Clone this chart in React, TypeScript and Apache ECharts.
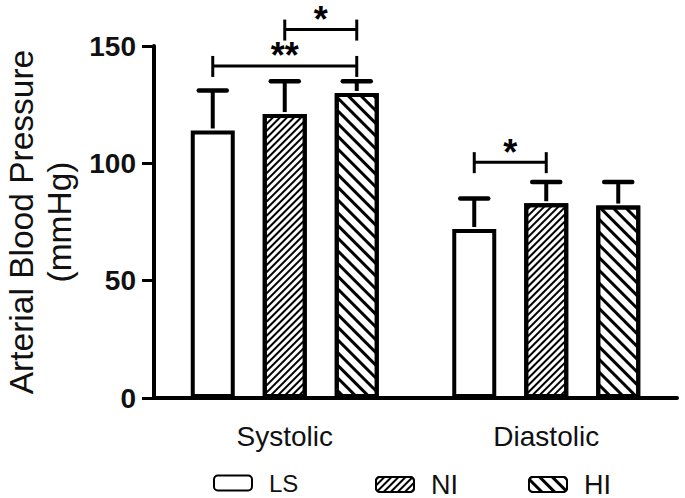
import React, { useEffect, useRef } from "react";
import * as echarts from "echarts";

const categories = ["Systolic", "Diastolic"];
const groups = ["LS", "NI", "HI"];
const meanLS = [114, 72];
const meanNI = [121, 83];
const meanHI = [130, 82];
const sdLS = [17, 13];
const sdNI = [14, 9];
const sdHI = [5, 10];
// significance brackets: [categoryIndex, fromGroup, toGroup, y value]
const brackets = [
  [0, 1, 2, 157],
  [0, 0, 2, 141.5],
  [1, 0, 1, 100.5],
];
const bracketLabels = ["*", "**", "*"];
const yTicks = { min: 0, max: 150, interval: 50 };

const FONT = "'Liberation Sans', Arial, sans-serif";
const BAR_W = 44;
const STEP = 72;

export default function App() {
  const ref = useRef<HTMLDivElement>(null);
  useEffect(() => {
    if (!ref.current) return;
    const chart = echarts.init(ref.current, null, { renderer: "svg" });
    const means = [meanLS, meanNI, meanHI];
    const sds = [sdLS, sdNI, sdHI];
    const errData: number[][] = [];
    means.forEach((m, gi) =>
      m.forEach((v, ci) => errData.push([ci, gi, v, v + sds[gi][ci]]))
    );
    const decals: any[] = [
      undefined,
      {
        symbol: "rect",
        symbolSize: 1,
        color: "#000",
        backgroundColor: "#fff",
        dashArrayX: [1, 0],
        dashArrayY: [1.4, 3],
        rotation: -Math.PI / 4,
      },
      {
        symbol: "rect",
        symbolSize: 1,
        color: "#000",
        backgroundColor: "#fff",
        dashArrayX: [1, 0],
        dashArrayY: [2.4, 6],
        rotation: Math.PI / 4,
      },
    ];
    const barSeries = groups.map((g, gi) => ({
      name: g,
      type: "bar",
      data: means[gi],
      barWidth: BAR_W,
      barGap: ((STEP - BAR_W) / BAR_W) * 100 + "%",
      itemStyle: {
        color: "#fff",
        borderColor: "#000",
        borderWidth: 4,
        decal: decals[gi],
      },
      z: 2,
    }));
    const legendPos = [
      { left: 208, size: 24 },
      { left: 370, size: 27 },
      { left: 523, size: 27 },
    ];
    chart.setOption({
      animation: false,
      backgroundColor: "#fff",
      grid: {
        left: 154,
        right: 8,
        top: 46,
        bottom: 100,
        containLabel: false,
        outerBoundsMode: "none",
      },
      legend: groups.map((g, gi) => ({
        data: [g],
        left: legendPos[gi].left,
        top: 466,
        icon: "roundRect",
        itemWidth: 38,
        itemHeight: 15,
        selectedMode: false,
        textStyle: {
          fontFamily: FONT,
          fontSize: legendPos[gi].size,
          color: "#111",
          padding: [0, 0, 0, 12],
        },
      })),
      xAxis: {
        type: "category",
        data: categories,
        axisLine: { lineStyle: { color: "#000", width: 4 } },
        axisTick: { alignWithLabel: true, length: 10, lineStyle: { color: "#000", width: 3 } },
        axisLabel: { fontFamily: FONT, fontSize: 28, color: "#111", margin: 24 },
      },
      yAxis: {
        type: "value",
        min: yTicks.min,
        max: yTicks.max,
        interval: yTicks.interval,
        name: "Arterial Blood Pressure\n(mmHg)",
        nameLocation: "middle",
        nameGap: 73,
        nameTextStyle: { fontFamily: FONT, fontSize: 33.5, lineHeight: 38, color: "#111" },
        axisLine: { show: true, lineStyle: { color: "#000", width: 4 } },
        axisTick: { show: true, length: 12, lineStyle: { color: "#000", width: 3 } },
        axisLabel: { fontFamily: FONT, fontSize: 28, fontWeight: "bold", color: "#111", margin: 18 },
        splitLine: { show: false },
      },
      series: [
        ...barSeries,
        {
          type: "custom",
          name: "err",
          data: errData,
          z: 3,
          clip: false,
          renderItem: (params: any, api: any) => {
            const cat = api.value(0);
            const gi = api.value(1);
            const base = api.coord([cat, api.value(2)]);
            const top = api.coord([cat, api.value(3)]);
            const x = base[0] + (gi - 1) * STEP;
            return {
              type: "group",
              children: [
                {
                  type: "line",
                  shape: { x1: x, y1: base[1] - 2, x2: x, y2: top[1] },
                  style: { stroke: "#000", lineWidth: 4 },
                },
                {
                  type: "line",
                  shape: { x1: x - 14, y1: top[1], x2: x + 14, y2: top[1] },
                  style: { stroke: "#000", lineWidth: 4.5, lineCap: "round" },
                },
              ],
            };
          },
        },
        {
          type: "custom",
          name: "sig",
          data: brackets,
          z: 3,
          clip: false,
          renderItem: (params: any, api: any) => {
            const cat = api.value(0);
            const p = api.coord([cat, api.value(3)]);
            const x1 = p[0] + (api.value(1) - 1) * STEP;
            const x2 = p[0] + (api.value(2) - 1) * STEP;
            const y = p[1];
            const st = { stroke: "#000", lineWidth: 3 };
            return {
              type: "group",
              children: [
                { type: "line", shape: { x1, y1: y, x2, y2: y }, style: st },
                { type: "line", shape: { x1, y1: y - 10, x2: x1, y2: y + 11 }, style: st },
                { type: "line", shape: { x1: x2, y1: y - 10, x2, y2: y + 11 }, style: st },
                {
                  type: "text",
                  x: (x1 + x2) / 2,
                  y: y + 8,
                  style: {
                    text: bracketLabels[params.dataIndex],
                    fontFamily: FONT,
                    fontSize: 36,
                    fontWeight: "bold",
                    fill: "#000",
                    align: "center",
                    verticalAlign: "bottom",
                  },
                },
              ],
            };
          },
        },
      ],
    });
    return () => chart.dispose();
  }, []);
  return <div ref={ref} style={{ width: 685, height: 498, position: "absolute", left: 0, top: 0 }} />;
}
